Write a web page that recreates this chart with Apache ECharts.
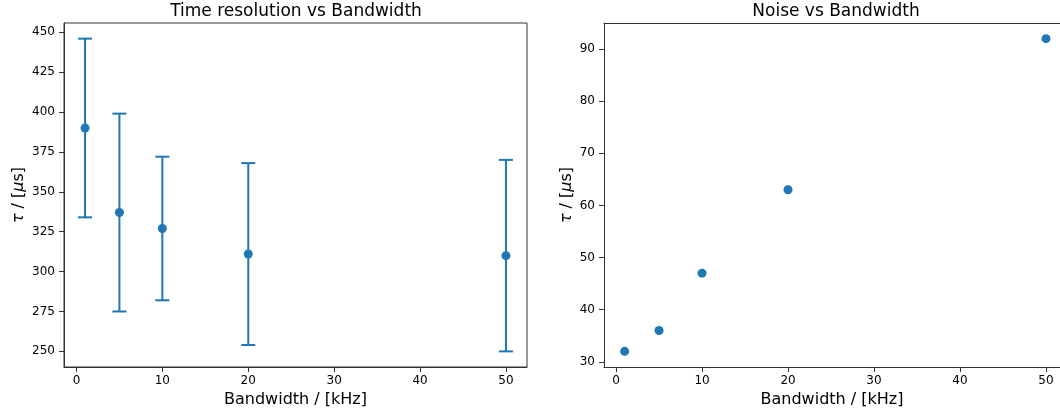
<!DOCTYPE html>
<html>
<head>
<meta charset="utf-8">
<script src="https://cdn.jsdelivr.net/npm/echarts@6/dist/echarts.min.js"></script>
<style>html,body{margin:0;padding:0;background:#fff}#c{width:1060px;height:414px}</style>
</head>
<body>
<div id="c"></div>
<script>
const bandwidth = [1, 5, 10, 20, 50];
const timeRes = [390, 337, 327, 311, 310];
const timeResErr = [56, 62, 45, 57, 60];
const noise = [32, 36, 47, 63, 92];
const xTicks = [0, 10, 20, 30, 40, 50];
const yTicksLeft = [250, 275, 300, 325, 350, 375, 400, 425, 450];
const yTicksRight = [30, 40, 50, 60, 70, 80, 90];

const COLOR = '#1f77b4';
const FONT = 'DejaVu Sans';
const AX = '#333';
const chart = echarts.init(document.getElementById('c'), null, {renderer: 'canvas'});

const errData = bandwidth.map((b, i) => [b, timeRes[i] - timeResErr[i], timeRes[i] + timeResErr[i]]);

function xAxisCfg(gi, min, max) {
  return {
    type: 'value', gridIndex: gi, min: min, max: max, position: 'bottom',
    name: 'Bandwidth / [kHz]', nameLocation: 'middle', nameGap: 25,
    nameTextStyle: {fontFamily: FONT, fontSize: 16, color: '#000'},
    axisLine: {show: true, onZero: false, lineStyle: {color: AX, width: 1}},
    axisTick: {show: true, length: 5, customValues: xTicks, lineStyle: {color: AX}},
    axisLabel: {customValues: xTicks, fontFamily: FONT, fontSize: 12, color: '#000', margin: 8},
    splitLine: {show: false}
  };
}
function topLine(gi, min, max) {
  return {
    type: 'value', gridIndex: gi, min: min, max: max, position: 'top',
    axisLine: {show: true, onZero: false, lineStyle: {color: AX, width: 1}},
    axisTick: {show: false}, axisLabel: {show: false}, splitLine: {show: false}
  };
}
function yAxisCfg(gi, min, max, ticks, gap) {
  return {
    type: 'value', gridIndex: gi, min: min, max: max,
    name: '{i|τ} / [{i|μ}s]', nameLocation: 'middle', nameGap: gap, nameRotate: 90,
    nameTextStyle: {fontFamily: FONT, fontSize: 16, color: '#000',
      rich: {i: {fontStyle: 'italic', fontFamily: FONT, fontSize: 16, color: '#000'}}},
    axisLine: {show: true, onZero: false, lineStyle: {color: AX, width: 1}},
    axisTick: {show: true, length: 5, customValues: ticks, lineStyle: {color: AX}},
    axisLabel: {customValues: ticks, fontFamily: FONT, fontSize: 12, color: '#000', margin: 9},
    splitLine: {show: false}
  };
}

chart.setOption({
  animation: false,
  backgroundColor: '#fff',
  title: [
    {text: 'Time resolution vs Bandwidth', left: 296, top: 3, padding: 0, textAlign: 'center',
     textStyle: {fontFamily: FONT, fontSize: 17, fontWeight: 'normal', color: '#000'}},
    {text: 'Noise vs Bandwidth', left: 836, top: 3, padding: 0, textAlign: 'center',
     textStyle: {fontFamily: FONT, fontSize: 17, fontWeight: 'normal', color: '#000'}}
  ],
  grid: [
    {left: 64, top: 23, width: 463, height: 344, show: true, borderColor: AX, borderWidth: 1, containLabel: false},
    {left: 604, top: 23, width: 456, height: 344, show: false, containLabel: false}
  ],
  xAxis: [xAxisCfg(0, -1.45, 52.45), xAxisCfg(1, -1.4, 51.63), topLine(1, -1.4, 51.63)],
  yAxis: [yAxisCfg(0, 240.2, 455.8, yTicksLeft, 37), yAxisCfg(1, 29, 95, yTicksRight, 29)],
  series: [
    {
      type: 'custom', xAxisIndex: 0, yAxisIndex: 0, data: errData,
      encode: {x: 0, y: [1, 2]}, z: 2,
      renderItem: function (params, api) {
        const x = api.value(0);
        const lo = api.coord([x, api.value(1)]);
        const hi = api.coord([x, api.value(2)]);
        const cap = 7;
        const st = {stroke: COLOR, lineWidth: 2, fill: null};
        return {type: 'group', children: [
          {type: 'line', shape: {x1: lo[0], y1: lo[1], x2: hi[0], y2: hi[1]}, style: st},
          {type: 'line', shape: {x1: lo[0] - cap, y1: lo[1], x2: lo[0] + cap, y2: lo[1]}, style: st},
          {type: 'line', shape: {x1: hi[0] - cap, y1: hi[1], x2: hi[0] + cap, y2: hi[1]}, style: st}
        ]};
      }
    },
    {
      type: 'scatter', xAxisIndex: 0, yAxisIndex: 0, z: 3,
      data: bandwidth.map((b, i) => [b, timeRes[i]]),
      symbol: 'circle', symbolSize: 9, itemStyle: {color: COLOR, opacity: 1}
    },
    {
      type: 'scatter', xAxisIndex: 1, yAxisIndex: 1, z: 3,
      data: bandwidth.map((b, i) => [b, noise[i]]),
      symbol: 'circle', symbolSize: 9, itemStyle: {color: COLOR, opacity: 1}
    }
  ]
});
</script>
</body>
</html>
